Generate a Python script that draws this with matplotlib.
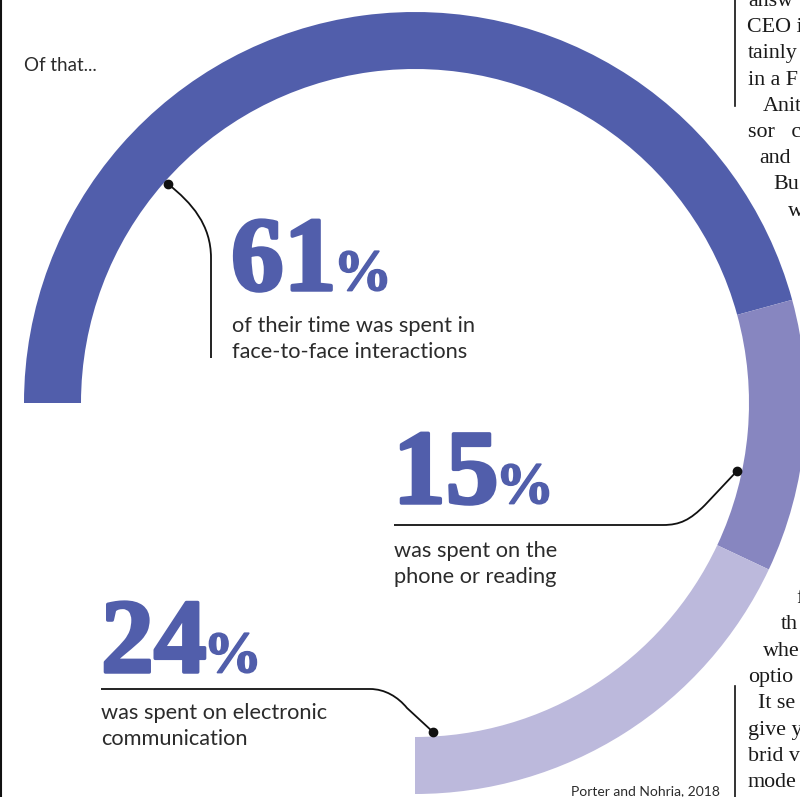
import matplotlib.pyplot as plt
import matplotlib.patheffects as pe
from matplotlib.patches import Wedge, PathPatch
from matplotlib.path import Path

# --- data ---
shares = [61, 15, 24]
big_labels = ["61", "15", "24"]
captions = [
    ["of their time was spent in", "face-to-face interactions"],
    ["was spent on the", "phone or reading"],
    ["was spent on electronic", "communication"],
]
colors = ["#515eab", "#8786c0", "#bcb9dc"]
source = "Porter and Nohria, 2018"
intro = "Of that..."

# bits of the article text running past the right edge
side_top = ["answ", "CEO i", "tainly", "in a F", "Anit", "sor   c", "and", "Bu", "w"]
side_bottom = ["f", "th", "whe", "optio", "It se", "give y", "brid v", "mode"]

W, H = 800, 797
fig = plt.figure(figsize=(W / 100, H / 100), dpi=100)
ax = fig.add_axes([0, 0, 1, 1])
ax.set_xlim(0, W)
ax.set_ylim(H, 0)  # pixel coords, y down
ax.axis("off")

# ring: starts at 9 o'clock, runs clockwise for 270 degrees
cx, cy, r_out, ring_w = 415, 403, 391, 57
span = 270.0
start = -180.0
for v, c in zip(shares, colors):
    sweep = v / sum(shares) * span
    ax.add_patch(Wedge((cx, cy), r_out, start, start + sweep, width=ring_w,
                       facecolor=c, edgecolor="none"))
    start += sweep

# leader lines
leaders = [
    [(168, 184), (192, 203), (211, 225), (211, 258), (211, 358)],
    [(737, 471), (705, 505), (690, 520), (680, 525), (663, 525), (394, 525)],
    [(433, 732), (407, 708), (398, 697), (385, 689), (370, 689), (101, 689)],
]
codes = [
    [Path.MOVETO, Path.CURVE4, Path.CURVE4, Path.CURVE4, Path.LINETO],
    [Path.MOVETO, Path.LINETO, Path.CURVE4, Path.CURVE4, Path.CURVE4, Path.LINETO],
    [Path.MOVETO, Path.LINETO, Path.CURVE4, Path.CURVE4, Path.CURVE4, Path.LINETO],
]
for pts, cd in zip(leaders, codes):
    ax.add_patch(PathPatch(Path(pts, cd), facecolor="none", edgecolor="#111111", lw=1.3))
    ax.plot(*pts[0], "o", color="#111111", ms=6)

# big numbers + captions
num_pos = [(231, 290), (393, 503), (101, 672)]
cap_pos = [(232, 332), (394, 557), (101, 719)]
renderer = fig.canvas.get_renderer()
heavy = [pe.withStroke(linewidth=2.5, foreground=colors[0])]
num_font = dict(family="Liberation Serif", weight="bold", color=colors[0])
for lab, cap, (nx, ny), (tx, ty) in zip(big_labels, captions, num_pos, cap_pos):
    t = ax.text(nx, ny, lab, fontsize=76, va="baseline", ha="left",
                path_effects=heavy, **num_font)
    bb = t.get_window_extent(renderer=renderer)
    ax.text(bb.x1 - 3, ny, "%", fontsize=42, va="baseline", ha="left",
            path_effects=[pe.withStroke(linewidth=1.2, foreground=colors[0])], **num_font)
    for i, line in enumerate(cap):
        ax.text(tx, ty + i * 26, line, fontsize=15.7, family="Lato",
                color="#2b2b2b", va="baseline", ha="left")

ax.text(24, 71, intro, fontsize=13.5, family="Lato", color="#2b2b2b", va="baseline")
ax.text(720, 795, source, fontsize=10, family="Lato", color="#2b2b2b",
        va="baseline", ha="right")

# page furniture: rules and the neighbouring column
ax.plot([0.8, 0.8], [0, H], color="#111111", lw=1.5)
ax.plot([735, 735], [0, 106], color="#111111", lw=1.2)
ax.plot([735, 735], [686, H], color="#111111", lw=1.2)

top_x = [748, 747, 748, 748, 763, 748, 759, 773, 788]
for i, (s, x) in enumerate(zip(side_top, top_x)):
    ax.text(x, 6 + i * 26.2, s, fontsize=15.8, family="Liberation Serif",
            color="#1a1a1a", va="baseline")
bot_x = [796, 781, 763, 748, 758, 748, 748, 748]
for i, (s, x) in enumerate(zip(side_bottom, bot_x)):
    ax.text(x, 603 + i * 26.3, s, fontsize=15.8, family="Liberation Serif",
            color="#1a1a1a", va="baseline")

fig.savefig("out.png", dpi=100)
